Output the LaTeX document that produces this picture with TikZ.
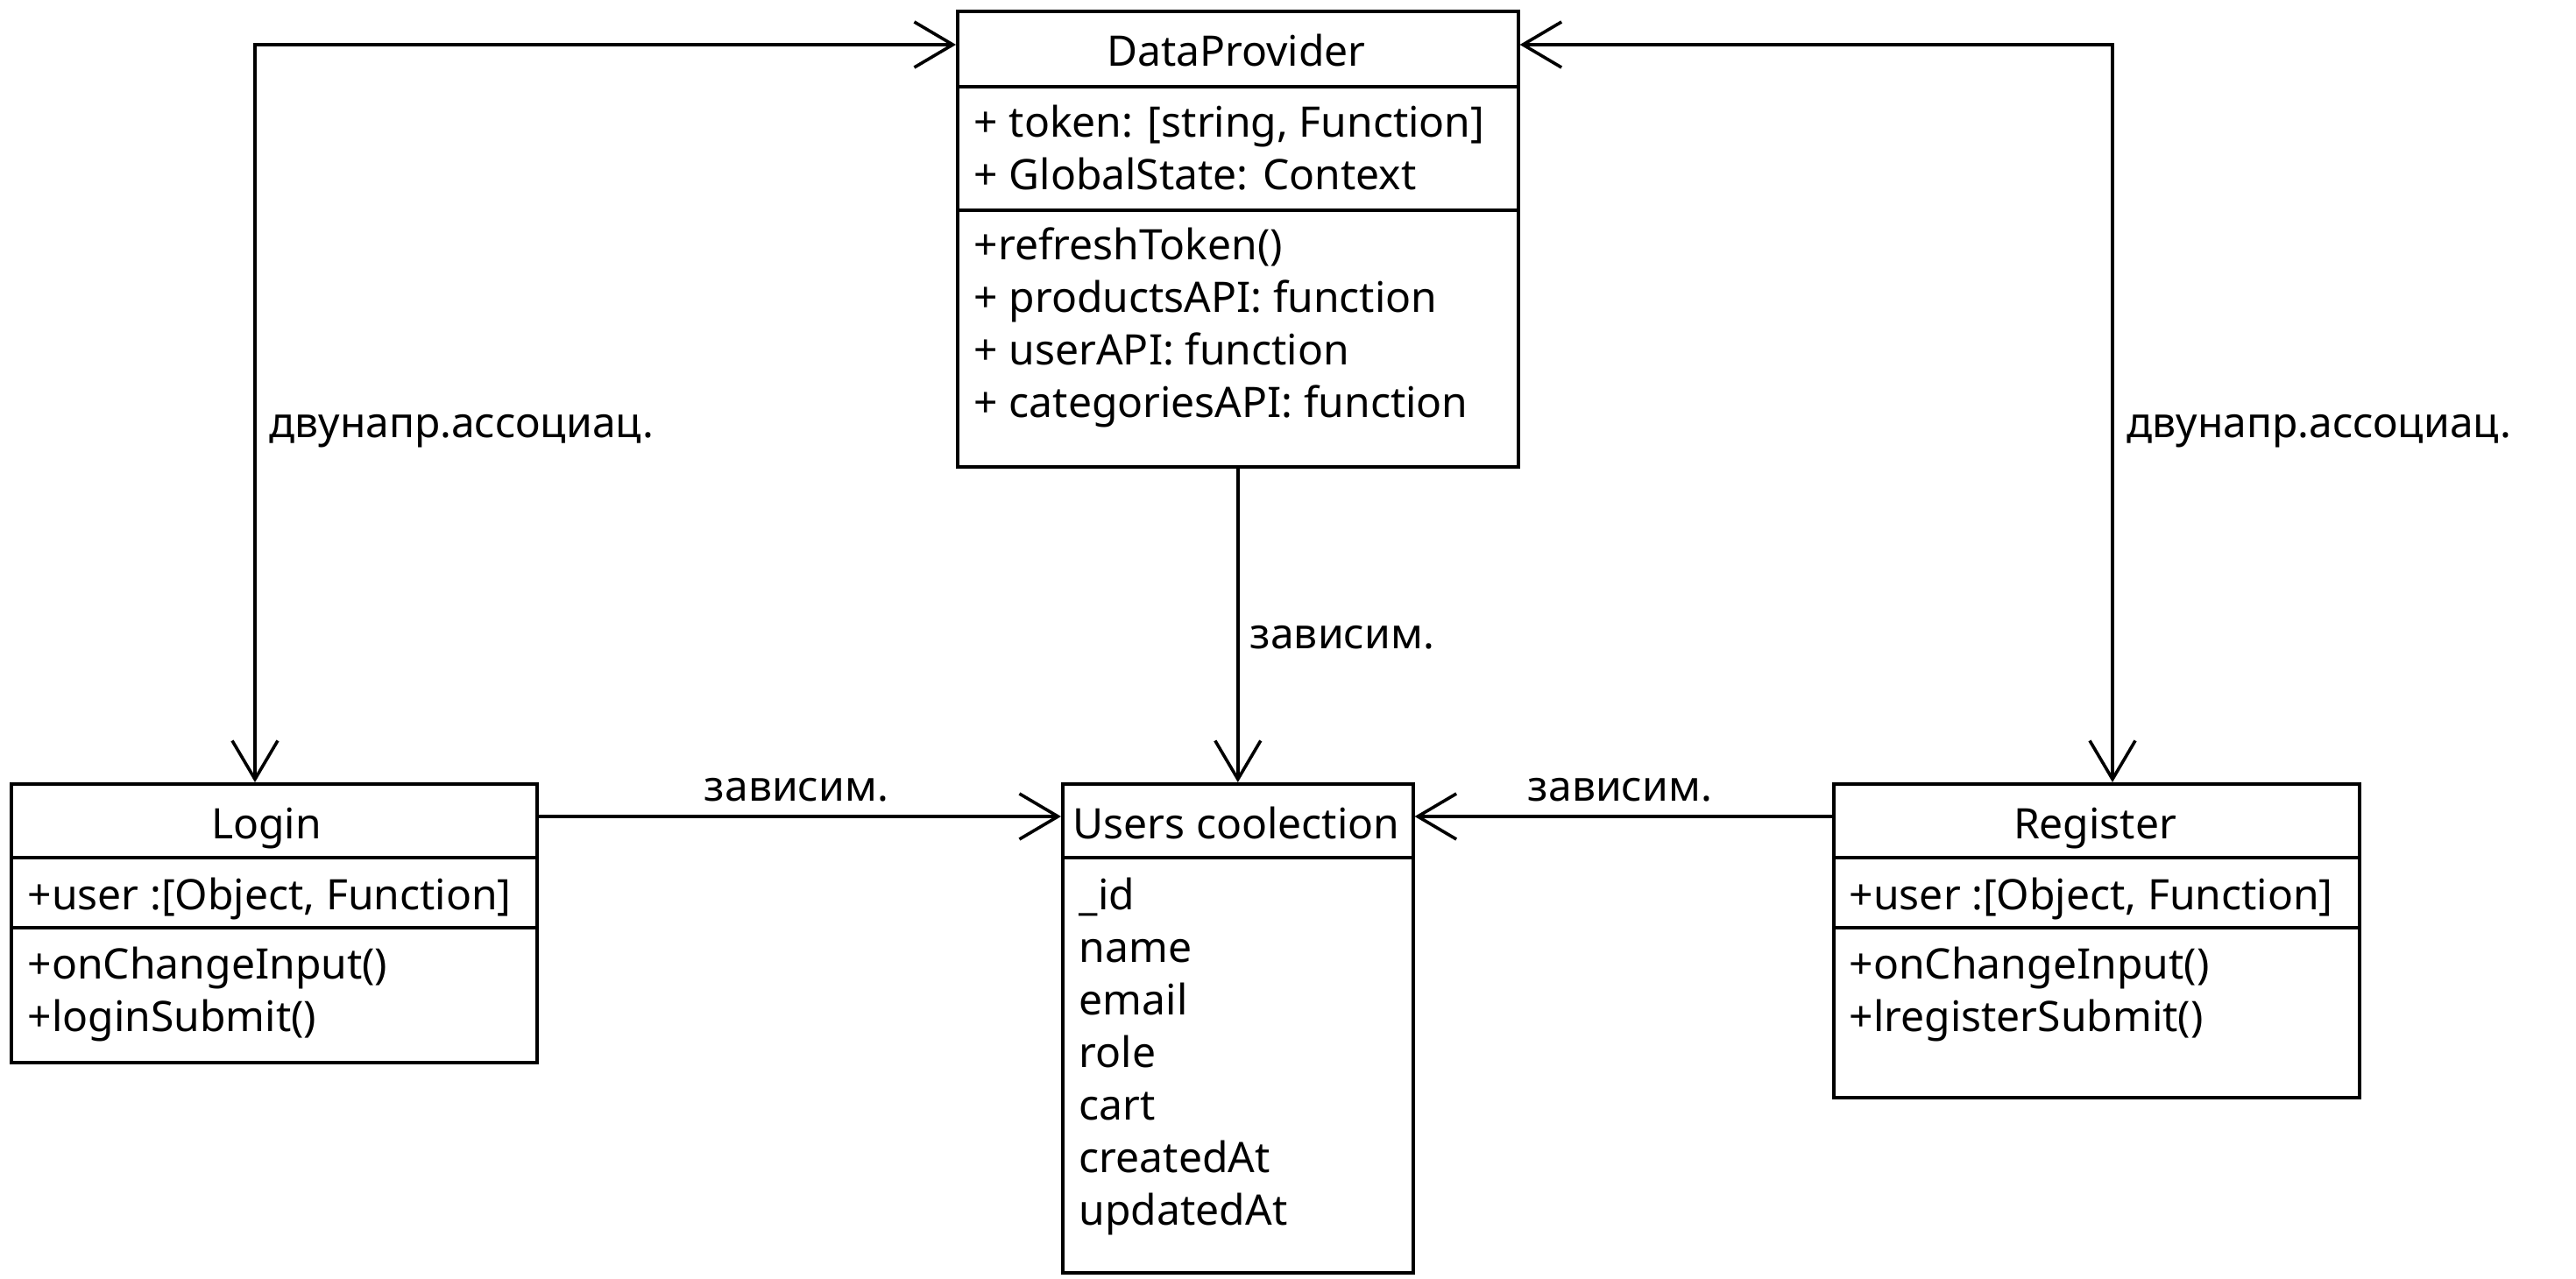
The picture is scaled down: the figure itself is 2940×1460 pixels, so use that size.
\documentclass[tikz,border=0pt]{standalone}
\usepackage{fontspec}
\setmainfont{Noto Sans}
\usetikzlibrary{arrows.meta}
\begin{document}
\begin{tikzpicture}[x=0.5pt,y=-0.5pt,
  line width=1.8pt,
  box/.style={draw, anchor=north west, inner sep=0pt, line width=1.8pt},
  txt/.style={inner sep=0pt, font=\fontsize{24pt}{30pt}\selectfont},
  tip/.style={-{Straight Barb[length=22pt,width=26pt]}},
  tips/.style={{Straight Barb[length=22pt,width=26pt]}-{Straight Barb[length=22pt,width=26pt]}},
]
\useasboundingbox (0,0) rectangle (2940,1460);

% DataProvider
\node[box, minimum width=320pt, minimum height=260pt] (dp) at (1091,11) {};
\draw (1091,99) -- (1731,99);
\draw (1091,240) -- (1731,240);
\node[txt, anchor=base] (dpt) at (1411,76) {DataProvider};
\node[txt, anchor=base west] (dpa1) at (1110,157) {+ token: [string, Function]};
\node[txt, anchor=base west] (dpa2) at (1110,217) {+ GlobalState: Context};
\node[txt, anchor=base west] (dpm1) at (1110,297) {+refreshToken()};
\node[txt, anchor=base west] (dpm2) at (1110,357) {+ productsAPI: function};
\node[txt, anchor=base west] (dpm3) at (1110,417) {+ userAPI: function};
\node[txt, anchor=base west] (dpm4) at (1110,477) {+ categoriesAPI: function};

% Login
\node[box, minimum width=300pt, minimum height=159pt] (login) at (11,893) {};
\draw (11,979) -- (611,979);
\draw (11,1059) -- (611,1059);
\node[txt, anchor=base] (lgt) at (304,957) {Login};
\node[txt, anchor=base west] (lga1) at (30,1038) {+user :[Object, Function]};
\node[txt, anchor=base west] (lgm1) at (30,1117) {+onChangeInput()};
\node[txt, anchor=base west] (lgm2) at (30,1177) {+loginSubmit()};

% Users coolection
\node[box, minimum width=200pt, minimum height=279pt] (users) at (1211,893) {};
\draw (1211,979) -- (1611,979);
\node[txt, anchor=base] (ust) at (1411,957) {Users coolection};
\node[txt, anchor=base west] (us1) at (1230,1038) {\_id};
\node[txt, anchor=base west] (us2) at (1230,1098) {name};
\node[txt, anchor=base west] (us3) at (1230,1158) {email};
\node[txt, anchor=base west] (us4) at (1230,1218) {role};
\node[txt, anchor=base west] (us5) at (1230,1278) {cart};
\node[txt, anchor=base west] (us6) at (1230,1338) {createdAt};
\node[txt, anchor=base west] (us7) at (1230,1398) {updatedAt};

% Register
\node[box, minimum width=300pt, minimum height=179pt] (reg) at (2091,893) {};
\draw (2091,979) -- (2691,979);
\draw (2091,1059) -- (2691,1059);
\node[txt, anchor=base] (rgt) at (2391,957) {Register};
\node[txt, anchor=base west] (rga1) at (2109,1038) {+user :[Object, Function]};
\node[txt, anchor=base west] (rgm1) at (2109,1117) {+onChangeInput()};
\node[txt, anchor=base west] (rgm2) at (2109,1177) {+lregisterSubmit()};

% connectors
\coordinate (lc) at (291,51);
\coordinate (rc) at (2411,51);
\coordinate (hy) at (0,932);
\draw[tips] (login.north -| lc) -- (lc) -- (dp.west |- lc);
\draw[tips] (reg.north -| rc) -- (rc) -- (dp.east |- rc);
\draw[tip] (dp.south) -- (users.north);
\draw[tip] (login.east |- hy) -- (users.west |- hy);
\draw[tip] (reg.west |- hy) -- (users.east |- hy);

% labels
\node[txt, anchor=base west] (la1) at (306,500) {двунапр.ассоциац.};
\node[txt, anchor=base west] (la2) at (2426,500) {двунапр.ассоциац.};
\node[txt, anchor=base west] (la3) at (1425,740) {зависим.};
\node[txt, anchor=base] (la4) at (909,914) {зависим.};
\node[txt, anchor=base] (la5) at (1849,914) {зависим.};
\end{tikzpicture}
\end{document}
